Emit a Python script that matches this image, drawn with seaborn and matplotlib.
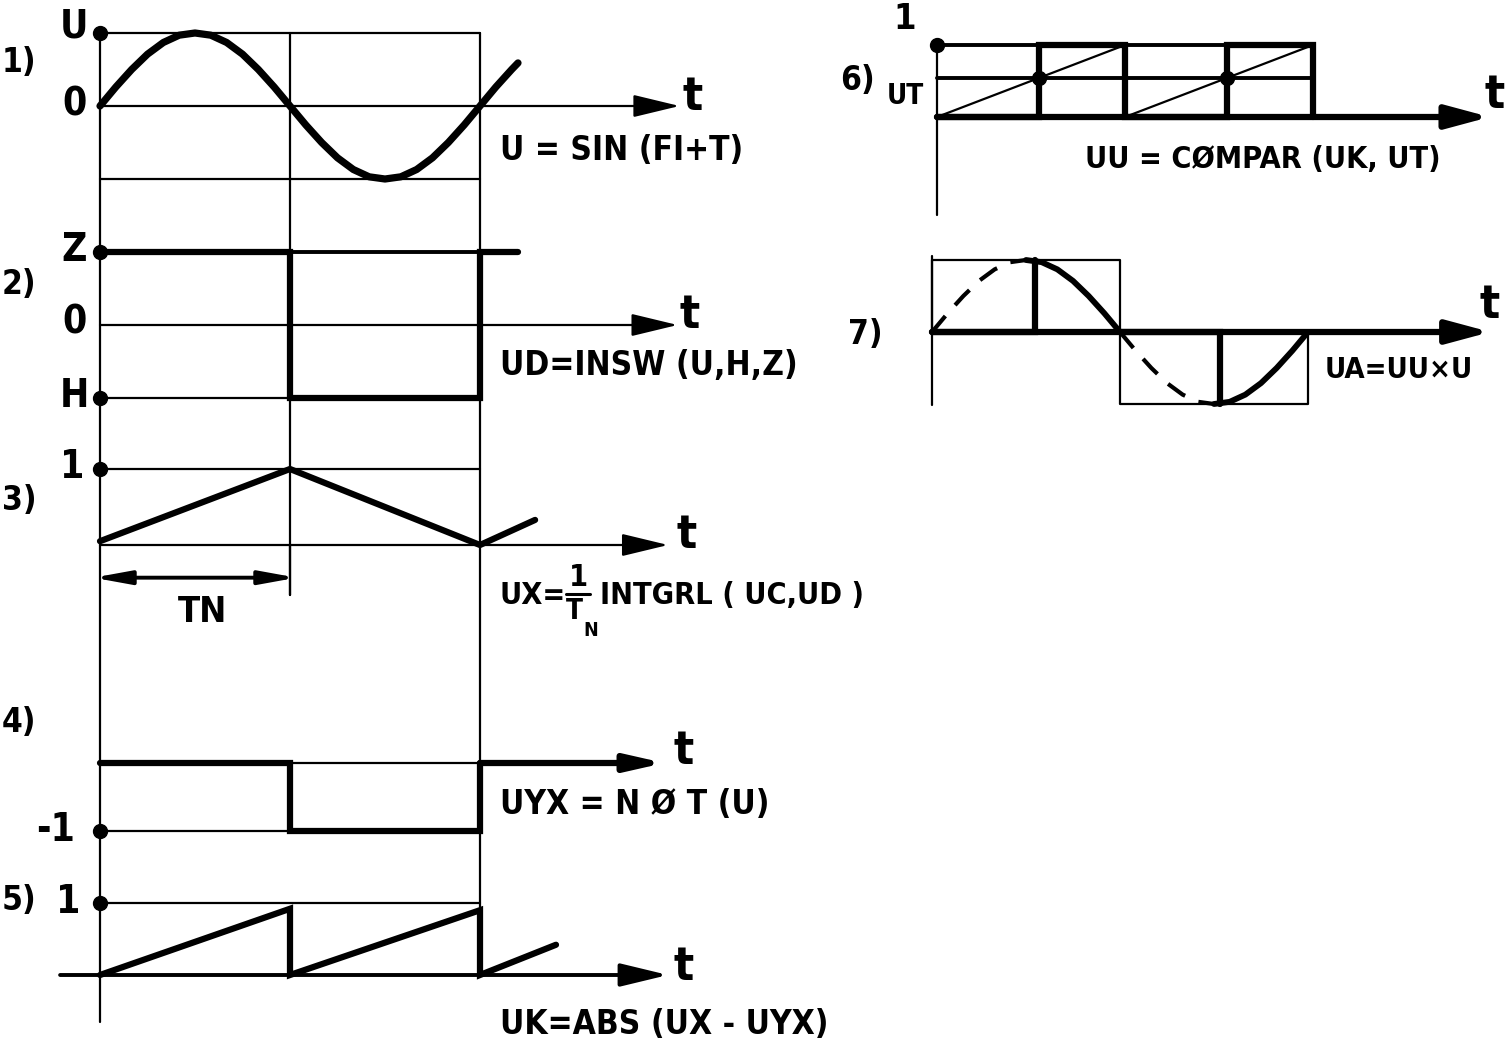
import matplotlib
matplotlib.use('Agg')
import matplotlib.pyplot as plt
import matplotlib.transforms as mtransforms
import numpy as np
import seaborn as sns

### Data, time in half periods / UK periods

# 1) U = SIN(FI+T): angle (deg) and value
sine_deg = [0, 15, 30, 45, 60, 75, 90, 105, 120, 135, 150, 165, 180, 195, 210, 225,
            240, 255, 270, 285, 300, 315, 330, 345, 360, 375, 390, 396]
sine_val = [0, 0.26, 0.5, 0.71, 0.87, 0.97, 1, 0.97, 0.87, 0.71, 0.5, 0.26, 0, -0.26, -0.5, -0.71,
            -0.87, -0.97, -1, -0.97, -0.87, -0.71, -0.5, -0.26, 0, 0.26, 0.5, 0.59]

# 2) UD = INSW(U,H,Z)
ud_t = [0, 1, 1, 2, 2, 2.2]
ud_v = [1, 1, -1, -1, 1, 1]

# 3) UX = 1/TN INTGRL(UC,UD)
ux_t = [0, 1, 2, 2.29]
ux_v = [0.05, 1, 0, 0.33]

# 4) UYX = NOT(U)
uyx_t = [0, 1, 1, 2, 2]
uyx_v = [0, 0, -1, -1, 0]

# 5) UK = ABS(UX - UYX)
uk_t = [0, 1, 1, 2, 2, 2.4]
uk_v = [0, 0.92, 0, 0.9, 0, 0.42]

# 6) UU = COMPAR(UK,UT)
ut_level = 0.54
uu_t = [0, 0.54, 0.54, 1, 1, 1.54, 1.54, 2, 2]
uu_v = [0, 0, 1, 1, 0, 0, 1, 1, 0]
saw_t = [0, 1, np.nan, 1, 2]
saw_v = [0, 1, np.nan, 0, 1]

# 7) UA = UU x U
ua_step_t = [[0, 0.55, 0.55], [1, 1.53, 1.53]]
ua_step_v = [[0, 0, 1], [0, 0, -1]]
ua_dashed = [(0, 90), (180, 270)]
ua_solid = [(90, 180), (270, 360)]

###

sns.set_theme(style='white')
plt.rcParams['font.family'] = ['Liberation Sans Narrow', 'DejaVu Sans']
FONT = dict(fontweight='bold', fontstretch='condensed', color='black')

THIN = 1.6
MED = 2.8
THICK = 4.5

fig = plt.figure(figsize=(15.05, 10.42), dpi=100)
ax = fig.add_axes([0, 0, 1, 1])
ax.set_xlim(0, 1505)
ax.set_ylim(1042, 0)


def panel(x0, y0, sx, sy):
    # maps (t, value) of one trace to the page
    return mtransforms.Affine2D().scale(sx, -sy).translate(x0, y0) + ax.transData


def arrow(tr, t0, t1, lw, hl=2.9, hw=0.7):
    ax.annotate('', xy=(t1, 0), xytext=(t0, 0), xycoords=tr, textcoords=tr,
                arrowprops=dict(arrowstyle=f'-|>,head_length={hl},head_width={hw}',
                                lw=lw, color='black', shrinkA=0, shrinkB=0,
                                mutation_scale=10))


def dot(tr, t, v):
    ax.plot([t], [v], 'o', color='black', ms=10, transform=tr)


def txt(x, y, s, size, ha='left'):
    ax.text(x, y, s, fontsize=size, ha=ha, va='center', **FONT)


LX0, LSX = 100, 190
sine_t = [d / 180 for d in sine_deg]

# long frame lines of the left column
ax.plot([LX0, LX0], [33, 1022], color='black', lw=THIN)
ax.plot([LX0 + LSX, LX0 + LSX], [33, 595], color='black', lw=THIN)
ax.plot([LX0 + 2 * LSX, LX0 + 2 * LSX], [33, 975], color='black', lw=THIN)

# 1)
tr1 = panel(LX0, 106, LSX, 73)
ax.plot([0, 2], [1, 1], color='black', lw=THIN, transform=tr1)
ax.plot([0, 2], [-1, -1], color='black', lw=THIN, transform=tr1)
arrow(tr1, 0, 3.05, THIN)
sns.lineplot(x=sine_t, y=sine_val, ax=ax, color='black', lw=5.2, sort=False,
             estimator=None, transform=tr1, solid_joinstyle='round', solid_capstyle='round')
dot(tr1, 0, 1)

# 2)
tr2 = panel(LX0, 325, LSX, 73)
ax.plot([0, 2], [1, 1], color='black', lw=MED, transform=tr2)
ax.plot([0, 1], [-1, -1], color='black', lw=THIN, transform=tr2)
arrow(tr2, 0, 3.04, THIN)
ax.plot(ud_t, ud_v, color='black', lw=THICK, transform=tr2, solid_joinstyle='miter')
dot(tr2, 0, 1)
dot(tr2, 0, -1)

# 3)
tr3 = panel(LX0, 545, LSX, 76)
ax.plot([0, 2], [1, 1], color='black', lw=THIN, transform=tr3)
arrow(tr3, 0, 2.99, THIN)
ax.plot(ux_t, ux_v, color='black', lw=THICK, transform=tr3, solid_capstyle='round')
dot(tr3, 0, 1)
ax.annotate('', xy=(-0.035, -0.43), xytext=(1.035, -0.43), xycoords=tr3, textcoords=tr3,
            arrowprops=dict(arrowstyle='<|-|>,head_length=2.2,head_width=0.4', lw=MED,
                            color='black', shrinkA=0, shrinkB=0, mutation_scale=10))
ax.plot([1, 1], [0, -0.66], color='black', lw=THIN, transform=tr3)

# 4)
tr4 = panel(LX0, 763, LSX, 68)
ax.plot([0, 1], [-1, -1], color='black', lw=THIN, transform=tr4)
ax.plot([1, 2], [0, 0], color='black', lw=THIN, transform=tr4)
arrow(tr4, 2, 2.97, THICK, hl=2.2, hw=0.5)
ax.plot(uyx_t, uyx_v, color='black', lw=THICK, transform=tr4, solid_joinstyle='miter')
dot(tr4, 0, -1)

# 5)
tr5 = panel(LX0, 975, LSX, 72)
ax.plot([0, 2], [1, 1], color='black', lw=THIN, transform=tr5)
arrow(tr5, -0.21, 2.99, MED)
ax.plot(uk_t, uk_v, color='black', lw=THICK, transform=tr5, solid_joinstyle='miter',
        solid_capstyle='round')
dot(tr5, 0, 1)

# 6)
tr6 = panel(937, 117, 188, 72)
ax.plot([0, 0], [1, -1.36], color='black', lw=THIN, transform=tr6)
ax.plot([0, 2], [1, 1], color='black', lw=MED, transform=tr6)
ax.plot([0, 2], [ut_level, ut_level], color='black', lw=MED, transform=tr6)
ax.plot(saw_t, saw_v, color='black', lw=THIN, transform=tr6)
for tv in [0.54, 1, 1.54, 2]:
    ax.plot([tv, tv], [0, 1], color='black', lw=MED, transform=tr6)
arrow(tr6, 0, 2.94, THICK, hl=2.6, hw=0.7)
ax.plot(uu_t, uu_v, color='black', lw=THICK, transform=tr6, solid_joinstyle='miter')
dot(tr6, 0, 1)
dot(tr6, 0.54, ut_level)
dot(tr6, 1.54, ut_level)

# 7)
tr7 = panel(932, 332, 188, 72)
ax.plot([0, 0], [1.05, -1.02], color='black', lw=THIN, transform=tr7)
ax.plot([0, 0, 1, 1], [0, 1, 1, 0], color='black', lw=THIN, transform=tr7)
ax.plot([1, 1, 2, 2], [0, -1, -1, 0], color='black', lw=THIN, transform=tr7)
arrow(tr7, 0, 2.97, THICK, hl=2.6, hw=0.7)
for st, sv in zip(ua_step_t, ua_step_v):
    ax.plot(st, sv, color='black', lw=THICK, transform=tr7, solid_joinstyle='miter')
for a, b in ua_dashed:
    idx = [i for i, d in enumerate(sine_deg) if a <= d <= b]
    ax.plot([sine_t[i] for i in idx], [sine_val[i] for i in idx], color='black', lw=3,
            ls=(0, (5, 3.5)), transform=tr7)
for a, b in ua_solid:
    idx = [i for i, d in enumerate(sine_deg) if a <= d <= b]
    sns.lineplot(x=[sine_t[i] for i in idx], y=[sine_val[i] for i in idx], ax=ax,
                 color='black', lw=4.2, sort=False, estimator=None, transform=tr7,
                 solid_joinstyle='round')

# labels
txt(2, 62, '1)', 24)
txt(74, 27, 'U', 28, ha='center')
txt(74, 105, '0', 28, ha='center')
txt(2, 285, '2)', 24)
txt(74, 250, 'Z', 28, ha='center')
txt(74, 323, '0', 28, ha='center')
txt(74, 396, 'H', 28, ha='center')
txt(2, 500, '3)', 24)
txt(72, 467, '1', 28, ha='center')
txt(203, 612, 'TN', 26, ha='center')
txt(2, 722, '4)', 24)
txt(75, 830, '-1', 28, ha='right')
txt(2, 900, '5)', 24)
txt(68, 902, '1', 28, ha='center')

for x, y in [(693, 98), (690, 315), (687, 535), (684, 752), (684, 967), (1495, 95), (1490, 305)]:
    txt(x, y, 't', 34, ha='center')

txt(500, 150, 'U = SIN (FI+T)', 24)
txt(500, 365, 'UD=INSW (U,H,Z)', 24)
txt(500, 596, 'UX=', 22)
txt(578, 578, '1', 22, ha='center')
ax.plot([566, 590], [594, 594], color='black', lw=2.2)
txt(574, 611, 'T', 20, ha='center')
txt(591, 630, 'N', 14, ha='center')
txt(600, 596, 'INTGRL ( UC,UD )', 22)
txt(500, 805, 'UYX = N Ø T (U)', 24)
txt(500, 1025, 'UK=ABS (UX - UYX)', 24)

txt(905, 19, '1', 26, ha='center')
txt(858, 80, '6)', 24, ha='center')
txt(905, 96, 'UT', 20, ha='center')
txt(1085, 160, 'UU = CØMPAR (UK, UT)', 22)
txt(865, 335, '7)', 24, ha='center')
txt(1325, 370, 'UA=UU×U', 21)

ax.set_xlim(0, 1505)
ax.set_ylim(1042, 0)
ax.set_axis_off()
fig.savefig('out.png', dpi=100)
